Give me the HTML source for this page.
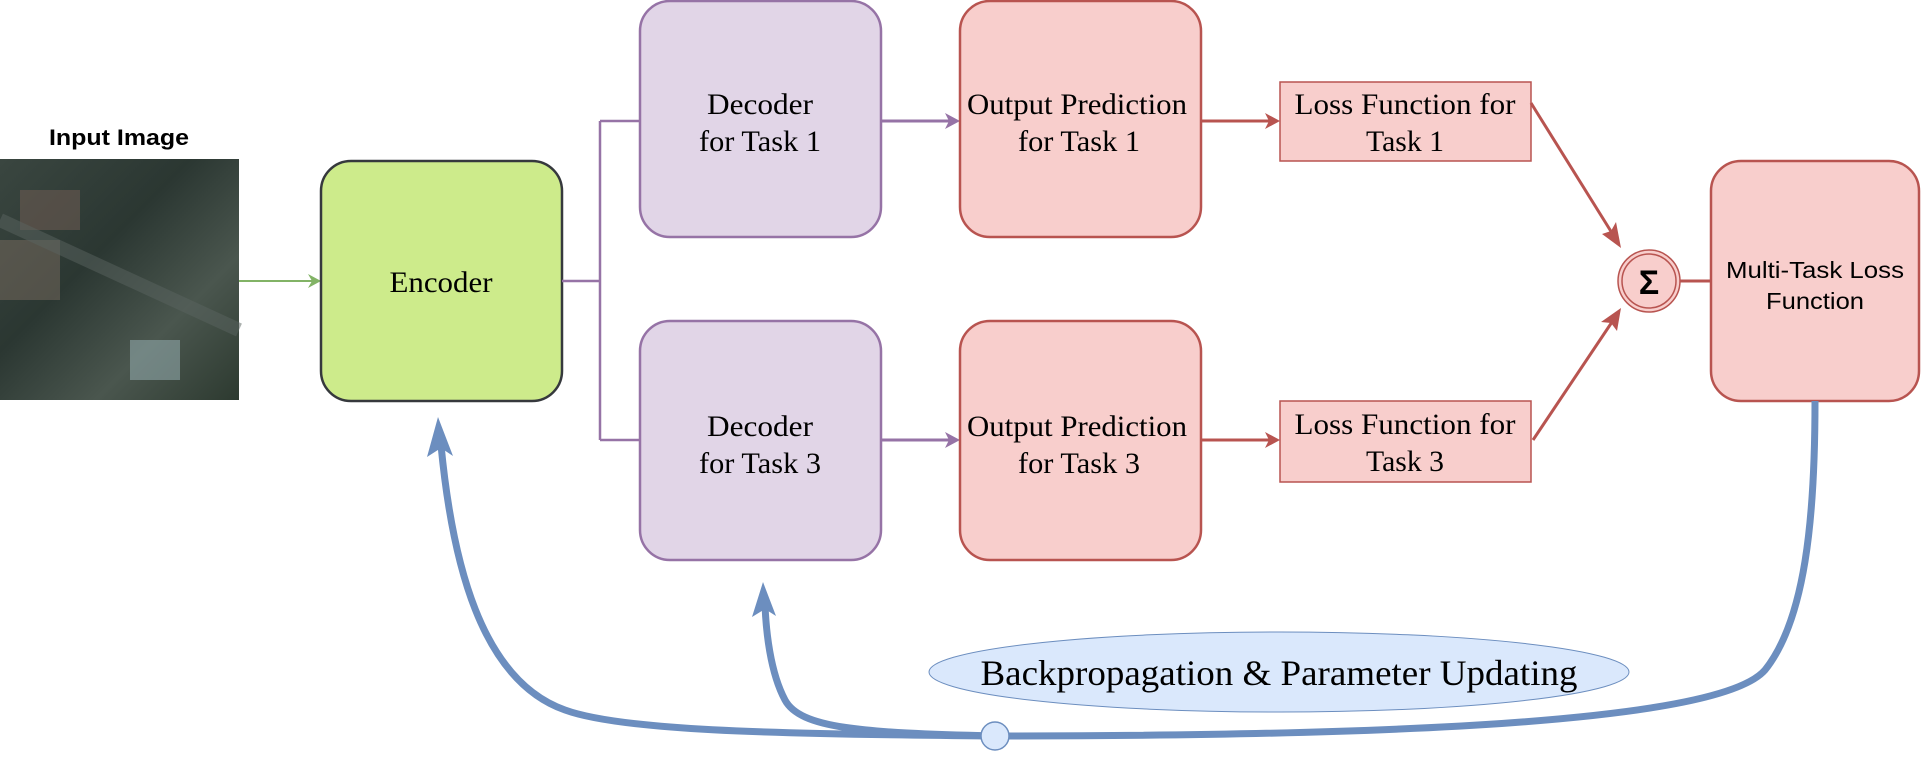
<!DOCTYPE html>
<html><head><style>
body{margin:0;width:1923px;height:753px;background:#fff;overflow:hidden}
</style></head><body>
<svg width="1923" height="753" viewBox="0 0 1923 753" xmlns="http://www.w3.org/2000/svg">
<defs>
<linearGradient id="img" x1="0" y1="0" x2="1" y2="1">
<stop offset="0" stop-color="#3a4640"/><stop offset="0.4" stop-color="#2b3732"/><stop offset="0.7" stop-color="#4a564e"/><stop offset="1" stop-color="#2d3a30"/>
</linearGradient>
</defs>
<g font-family="Liberation Serif, serif" font-size="30" text-anchor="middle" lengthAdjust="spacingAndGlyphs">
<text x="119" y="145" font-family="Liberation Sans, sans-serif" font-weight="bold" font-size="22" textLength="140" lengthAdjust="spacingAndGlyphs">Input Image</text>
<rect x="0" y="159" width="239" height="241" fill="url(#img)"/>
<rect x="20" y="190" width="60" height="40" fill="#6b5a52" opacity="0.6"/>
<rect x="130" y="340" width="50" height="40" fill="#8fa7a8" opacity="0.6"/>
<rect x="0" y="240" width="60" height="60" fill="#7a6b60" opacity="0.5"/>
<path d="M0 220 L239 330" stroke="#5a6460" stroke-width="14" opacity="0.5"/>
<line x1="239" y1="281" x2="312" y2="281" stroke="#82b366" stroke-width="2"/>
<path d="M321 281 L308 274 L312 281 L308 288 Z" fill="#82b366"/>
<rect x="321" y="161" width="241" height="240" rx="30" fill="#cdeb8b" stroke="#36393d" stroke-width="2.5"/>
<text x="441" y="292" textLength="103" lengthAdjust="spacingAndGlyphs">Encoder</text>
<path d="M562 281 H600 M600 121 V440 M600 121 H640 M600 440 H640" stroke="#9673a6" stroke-width="2.5" fill="none"/>
<rect x="640" y="1" width="241" height="236" rx="30" fill="#e1d5e7" stroke="#9673a6" stroke-width="2.5"/>
<text x="760" y="114" textLength="106" lengthAdjust="spacingAndGlyphs">Decoder</text>
<text x="760" y="151" textLength="122" lengthAdjust="spacingAndGlyphs">for Task 1</text>
<rect x="640" y="321" width="241" height="239" rx="30" fill="#e1d5e7" stroke="#9673a6" stroke-width="2.5"/>
<text x="760" y="436" textLength="106" lengthAdjust="spacingAndGlyphs">Decoder</text>
<text x="760" y="473" textLength="122" lengthAdjust="spacingAndGlyphs">for Task 3</text>
<line x1="881" y1="121" x2="950" y2="121" stroke="#9673a6" stroke-width="3"/>
<path d="M960 121 L945 113 L949 121 L945 129 Z" fill="#9673a6"/>
<line x1="881" y1="440" x2="950" y2="440" stroke="#9673a6" stroke-width="3"/>
<path d="M960 440 L945 432 L949 440 L945 448 Z" fill="#9673a6"/>
<rect x="960" y="1" width="241" height="236" rx="30" fill="#f8cecc" stroke="#b85450" stroke-width="2.5"/>
<text x="1077" y="114" textLength="220" lengthAdjust="spacingAndGlyphs">Output Prediction</text>
<text x="1079" y="151" textLength="122" lengthAdjust="spacingAndGlyphs">for Task 1</text>
<rect x="960" y="321" width="241" height="239" rx="30" fill="#f8cecc" stroke="#b85450" stroke-width="2.5"/>
<text x="1077" y="436" textLength="220" lengthAdjust="spacingAndGlyphs">Output Prediction</text>
<text x="1079" y="473" textLength="122" lengthAdjust="spacingAndGlyphs">for Task 3</text>
<line x1="1201" y1="121" x2="1270" y2="121" stroke="#b85450" stroke-width="3"/>
<path d="M1280 121 L1265 113 L1269 121 L1265 129 Z" fill="#b85450"/>
<line x1="1201" y1="440" x2="1270" y2="440" stroke="#b85450" stroke-width="3"/>
<path d="M1280 440 L1265 432 L1269 440 L1265 448 Z" fill="#b85450"/>
<rect x="1280" y="82" width="251" height="79" fill="#f8cecc" stroke="#b85450" stroke-width="1.5"/>
<text x="1405" y="114" textLength="221" lengthAdjust="spacingAndGlyphs">Loss Function for</text>
<text x="1405" y="151" textLength="78" lengthAdjust="spacingAndGlyphs">Task 1</text>
<rect x="1280" y="401" width="251" height="81" fill="#f8cecc" stroke="#b85450" stroke-width="1.5"/>
<text x="1405" y="434" textLength="221" lengthAdjust="spacingAndGlyphs">Loss Function for</text>
<text x="1405" y="471" textLength="78" lengthAdjust="spacingAndGlyphs">Task 3</text>
<line x1="1531" y1="103" x2="1612" y2="233" stroke="#b85450" stroke-width="3"/>
<path d="M1621 248 L1602 234 L1611 231 L1616 222 Z" fill="#b85450"/>
<line x1="1533" y1="440" x2="1612" y2="322" stroke="#b85450" stroke-width="3"/>
<path d="M1621 308 L1617 331 L1611 323 L1601 322 Z" fill="#b85450"/>
<line x1="1672" y1="281" x2="1711" y2="281" stroke="#b85450" stroke-width="3"/>
<circle cx="1649" cy="281" r="31" fill="#f8cecc" stroke="#b85450" stroke-width="1.5"/>
<circle cx="1649" cy="281" r="27" fill="none" stroke="#b85450" stroke-width="1.5"/>
<text x="1649" y="294" font-family="Liberation Sans, sans-serif" font-weight="bold" font-size="34">Σ</text>
<rect x="1711" y="161" width="208" height="240" rx="30" fill="#f8cecc" stroke="#b85450" stroke-width="2.5"/>
<text x="1815" y="278" font-family="Liberation Sans, sans-serif" font-size="23" textLength="178" lengthAdjust="spacingAndGlyphs">Multi-Task Loss</text>
<text x="1815" y="309" font-family="Liberation Sans, sans-serif" font-size="23" textLength="98" lengthAdjust="spacingAndGlyphs">Function</text>
<ellipse cx="1279" cy="672" rx="350" ry="40" fill="#dae8fc" stroke="#6c8ebf" stroke-width="1"/>
<text x="1279" y="685" font-size="36" textLength="597" lengthAdjust="spacingAndGlyphs">Backpropagation &amp; Parameter Updating</text>
</g>
<g fill="none" stroke="#6c8ebf" stroke-width="7">
<path d="M995 736 C 760 734, 620 730, 565 710 C 480 680, 452 560, 441 445"/>
<path d="M995 736 C 860 733, 800 728, 785 700 C 770 672, 766 630, 765 605"/>
<path d="M995 736 C 1400 736, 1720 722, 1765 670 C 1805 620, 1815 520, 1815 401"/>
</g>
<path d="M438 417 L453 456 L441 448 L427 457 Z" fill="#6c8ebf"/>
<path d="M763 582 L776 616 L765 609 L752 617 Z" fill="#6c8ebf"/>
<circle cx="995" cy="736" r="14" fill="#dae8fc" stroke="#6c8ebf" stroke-width="1.5"/>
</svg>
</body></html>
